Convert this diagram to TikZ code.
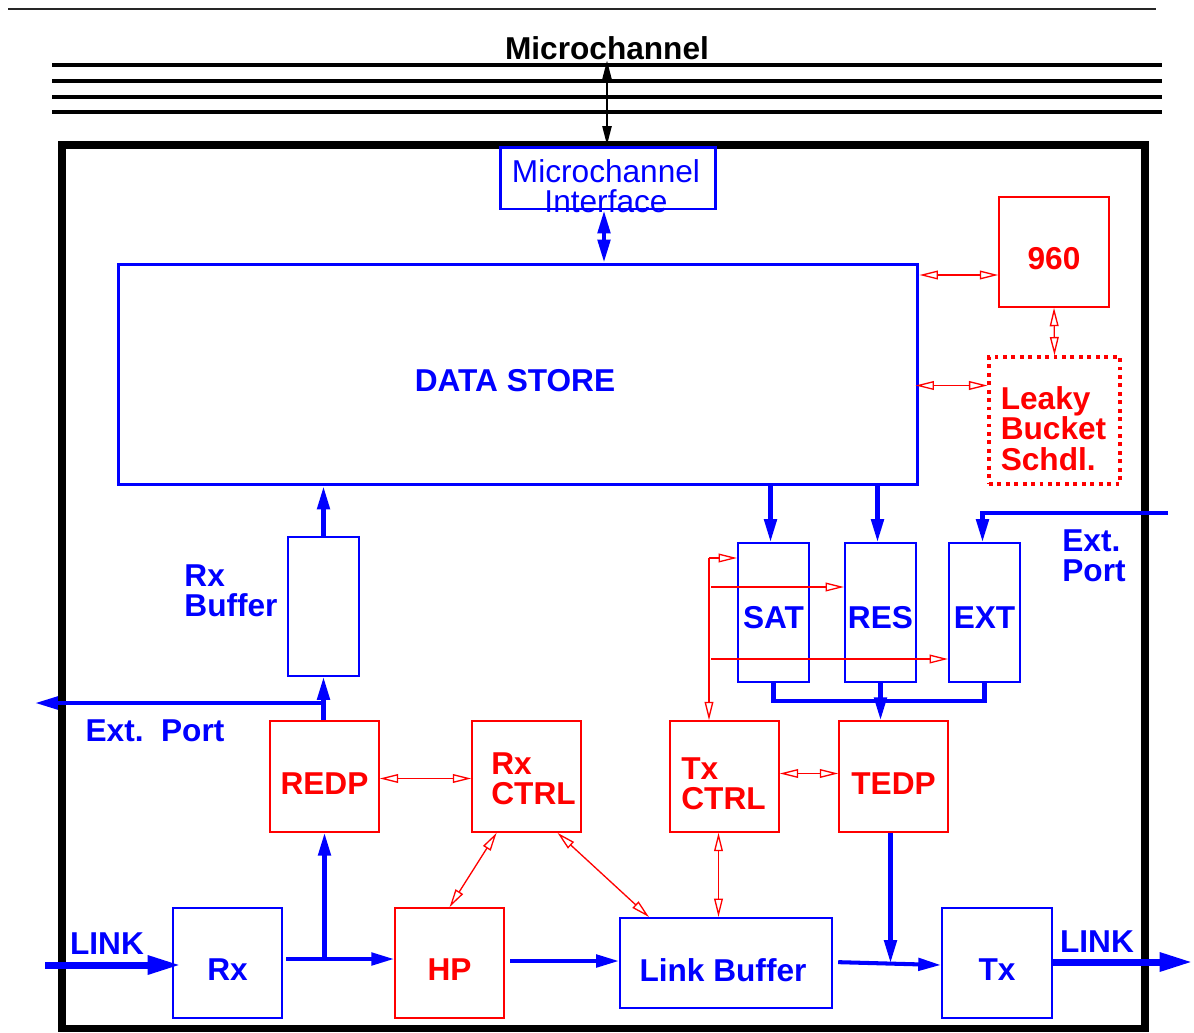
\documentclass[tikz,border=0pt]{standalone}
\usepackage{fontspec}
\setmainfont{Liberation Sans}
\usetikzlibrary{arrows.meta,calc}
\definecolor{pblue}{RGB}{0,0,255}
\definecolor{pred}{RGB}{255,0,0}
\begin{document}
\begin{tikzpicture}[x=0.02cm,y=-0.02cm,
  lbl/.style={font=\fontsize{18}{17.2}\selectfont\bfseries, align=left, inner sep=0pt},
  bbox/.style={draw=pblue, line width=1.1pt, inner sep=0pt},
  bigbbox/.style={draw=pblue, line width=1.7pt, inner sep=0pt},
  rbox/.style={draw=pred, line width=0.9pt, inner sep=0pt},
  sq/.style={minimum width=2.18cm, minimum height=2.22cm},
  tall/.style={minimum width=1.42cm, minimum height=2.78cm},
  btip/.tip={Triangle[length=13pt,width=7pt]},
  rtip/.tip={Triangle[open,length=10.5pt,width=5pt]},
  barr/.style={draw=pblue, line width=2.3pt, -btip},
  bline/.style={draw=pblue, line width=2.3pt},
  bdarr/.style={draw=pblue, line width=2.3pt, btip-btip},
  rdarr/.style={draw=pred, line width=0.75pt, rtip-rtip},
  rarr/.style={draw=pred, line width=0.75pt, -rtip},
  linkarr/.style={draw=pblue, line width=4pt, -{Triangle[length=19pt,width=10pt]}},
  blkdarr/.style={draw=black, line width=1.6pt, {Triangle[length=11pt,width=5pt]}-{Triangle[length=11pt,width=5pt]}},
  btext/.style={lbl, text=pblue},
  rtext/.style={lbl, text=pred}
]
\useasboundingbox (0,0) rectangle (1194,1032);

% top rule and microchannel bus
\draw[line width=1.2pt, black!85] (8,9) -- (1156,9);
\foreach \yy in {65,81,97,112} \draw[line width=2.3pt] (52,\yy) -- (1162,\yy);
\node[lbl, text=black] (mctitle) at (607,48) {Microchannel};

% enclosing board
\draw[line width=4pt] (62,145) rectangle (1145,1028);

% boxes
\node[bigbbox, fill=white, minimum width=4.32cm, minimum height=1.24cm] (mci) at (608,178) {};
\node[bigbbox, minimum width=16cm, minimum height=4.42cm] (ds) at (518,374.5) {};
\node[rbox, minimum width=2.2cm, minimum height=2.2cm] (n960) at (1054,252) {};
\node[rbox, line width=1.8pt, dash pattern=on 2.2pt off 2.6pt, minimum width=2.62cm, minimum height=2.54cm] (lb) at (1054.5,420.5) {};

\node[bbox, tall] (sat) at (773.5,612.5) {};
\node[bbox, tall] (res) at (880.5,612.5) {};
\node[bbox, tall] (ext) at (984.5,612.5) {};
\node[bbox, tall] (rxb) at (323.5,606.5) {};

\node[rbox, sq] (redp) at (324.5,776.5) {};
\node[rbox, sq] (rxctrl) at (526.5,776.5) {};
\node[rbox, sq] (txctrl) at (724.5,776.5) {};
\node[rbox, sq] (tedp) at (893.5,776.5) {};

\node[bbox, minimum width=2.18cm, minimum height=2.2cm] (rx) at (227.5,963) {};
\node[rbox, minimum width=2.18cm, minimum height=2.2cm] (hp) at (449.5,963) {};
\node[bbox, minimum width=4.24cm, minimum height=1.8cm] (linkbuf) at (726,963) {};
\node[bbox, minimum width=2.2cm, minimum height=2.2cm] (tx) at (997,963) {};

% texts
\node[inner sep=0pt, text=pblue, align=center, font=\fontsize{18}{17}\selectfont] (mcitext) at (606,186) {Microchannel\\Interface};
\node[btext] (dstext) at (515,381) {DATA STORE};
\node[rtext] (t960) at (1054,259) {960};
\node[rtext] (lbtext) at (1053.5,428.5) {Leaky\\Bucket\\Schdl.};
\node[btext] (sattext) at (773.5,618) {SAT};
\node[btext] (restext) at (880.5,618) {RES};
\node[btext] (exttext) at (984.5,618) {EXT};
\node[btext] (rxbtext) at (231,591) {Rx\\Buffer};
\node[rtext] (redptext) at (324.5,784) {REDP};
\node[rtext] (rxctrltext) at (533.5,779) {Rx\\CTRL};
\node[rtext] (txctrltext) at (723.5,783.5) {Tx\\CTRL};
\node[rtext] (tedptext) at (893.5,784) {TEDP};
\node[btext] (rxtext) at (227.5,970) {Rx};
\node[rtext] (hptext) at (449.5,970) {HP};
\node[btext] (lbuftext) at (723,970) {Link Buffer};
\node[btext] (txtext) at (997,970) {Tx};
\node[btext] (extptr) at (1094,556) {Ext.\\Port};
\node[btext] (extptl) at (155,731) {Ext.\ \ Port};
\node[btext] (linkl) at (107,944) {LINK};
\node[btext] (linkr) at (1097,942) {LINK};

% coordinates
\coordinate (mctop) at (607,60);
\coordinate (extin) at (1168,513);
\coordinate (extout) at (35,703);
\coordinate (rc) at (709,558);
\coordinate (r1) at (711,587);
\coordinate (r2) at (711,659);
\coordinate (linkin) at (45,965);
\coordinate (linkout) at (1193,962);

% black bus connection
\draw[blkdarr] (mctop) -- (mctop |- mci.north);
% microchannel interface to data store
\draw[bdarr] ($(mci.south)+(-4,0)$) -- ($(mci.south |- ds.north)+(-4,0)$);

% red control to 960 / leaky
\draw[rdarr] (ds.east |- {$(n960.west)+(0,23)$}) -- ($(n960.west)+(0,23)$);
\draw[rdarr] (n960.south) -- (lb.north);
\draw[rdarr] ($(ds.east |- lb.west)+(-4,-35)$) -- ($(lb.west)+(0,-35)$);

% data store to SAT/RES
\draw[barr] ($(sat.north |- ds.south)+(-3,0)$) -- ($(sat.north)+(-3,0)$);
\draw[barr] ($(res.north |- ds.south)+(-3,0)$) -- ($(res.north)+(-3,0)$);
\draw[barr] (extin) -| ($(ext.north)+(-2,0)$);

% merge to TEDP
\draw[bline] (sat.south) -- ++(0,18) -| (ext.south);
\draw[barr] (res.south) -- (res.south |- tedp.north);

% red lines from Tx CTRL
\draw[rarr] (rc) -- (rc -| sat.west);
\draw[rarr] (rc) -- (rc |- txctrl.north);
\draw[rarr] (r1) -- (r1 -| res.west);
\draw[rarr] (r2) -- (r2 -| ext.west);

% receive path
\draw[barr] (rxb.north) -- (rxb.north |- ds.south);
\draw[barr] (rxb.south |- redp.north) -- (rxb.south);
\draw[barr] (rxb.south |- extout) -- (extout);

\draw[rdarr] ($(redp.east)+(0,2)$) -- ($(rxctrl.west)+(0,2)$);
\draw[rdarr] ($(txctrl.east)+(0,-3)$) -- ($(tedp.west)+(0,-3)$);
\draw[rdarr] ($(rxctrl.south west)!0.23!(rxctrl.south east)$) -- (hp.north);
\draw[rdarr] ($(rxctrl.south west)!0.78!(rxctrl.south east)$) -- ($(linkbuf.north west)!0.14!(linkbuf.north east)$);
\draw[rdarr] ($(txctrl.south)+(-6,0)$) -- ($(txctrl.south |- linkbuf.north)+(-6,0)$);

% link level
\draw[linkarr] (linkin) -- ($(linkin -| rx.west)+(9,0)$);
\draw[barr, shorten <=2pt] ($(rx.east)+(0,-4)$) -- ($(hp.west)+(0,-4)$);
\draw[barr] (redp.south |- {$(rx.east)+(0,-4)$}) -- (redp.south);
\draw[barr, shorten <=3pt] ($(hp.east)+(0,-2)$) -- ($(linkbuf.west)+(0,-2)$);
\draw[barr, shorten <=3pt] ($(linkbuf.east)+(0,-1)$) -- ($(tx.west)+(0,2)$);
\draw[barr] ($(tedp.south)+(-3,0)$) -- ($(tedp.south |- tx.west)+(-3,0)$);
\draw[linkarr] (tx.east |- linkout) -- (linkout);
\end{tikzpicture}
\end{document}
